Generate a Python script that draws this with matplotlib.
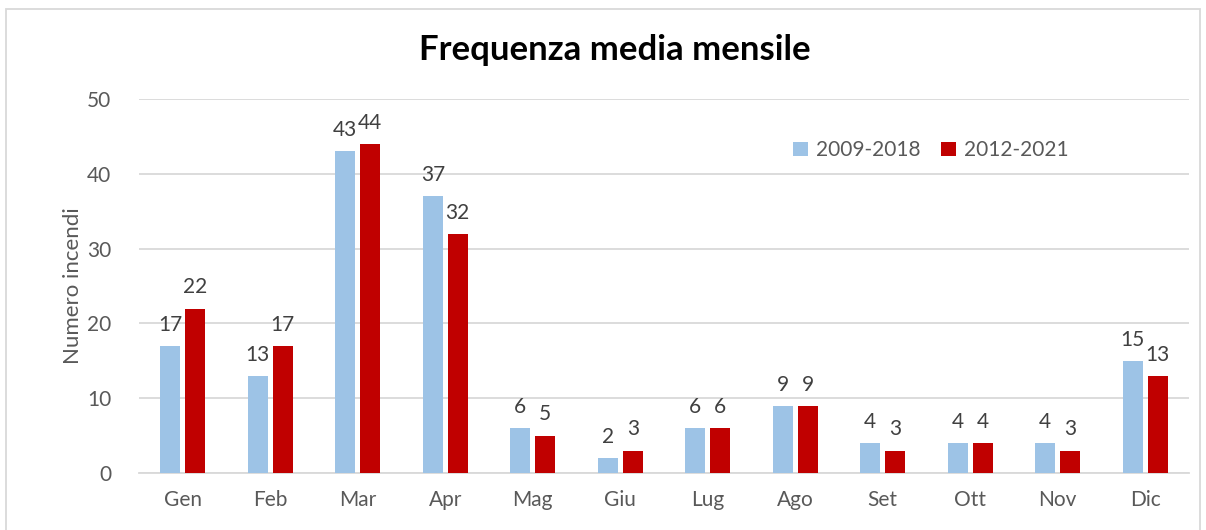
import numpy as np
import matplotlib.pyplot as plt

mesi = ["Gen", "Feb", "Mar", "Apr", "Mag", "Giu", "Lug", "Ago", "Set", "Ott", "Nov", "Dic"]
serie_a = [17, 13, 43, 37, 6, 2, 6, 9, 4, 4, 4, 15]   # 2009-2018
serie_b = [22, 17, 44, 32, 5, 3, 6, 9, 3, 4, 3, 13]   # 2012-2021
etichette = ["2009-2018", "2012-2021"]

plt.rcParams['font.family'] = ['Lato', 'DejaVu Sans']

fig = plt.figure(figsize=(12.06, 5.30), dpi=100)
ax = fig.add_axes([0.1153, 0.1075, 0.8706, 0.7055])

x = np.arange(len(mesi))
w = 0.23
gap = 0.055
col_a = "#9DC3E6"
col_b = "#C00000"
grigio = "#595959"

bars_a = ax.bar(x - (w + gap) / 2, serie_a, w, color=col_a, label=etichette[0], zorder=3)
bars_b = ax.bar(x + (w + gap) / 2, serie_b, w, color=col_b, label=etichette[1], zorder=3)

for bars in (bars_a, bars_b):
    for b in bars:
        ax.text(b.get_x() + b.get_width() / 2, b.get_height() + 1.5, f"{int(b.get_height())}",
                ha="center", va="bottom", fontsize=15, color="#404040")

ax.set_xlim(-0.5, len(mesi) - 0.5)
ax.set_ylim(0, 50)
ax.set_yticks(range(0, 51, 10))
ax.set_xticks(x)
ax.set_xticklabels(mesi)
ax.tick_params(axis="x", length=0, labelsize=15, colors=grigio, pad=12)
ax.tick_params(axis="y", length=0, labelsize=15, colors=grigio, pad=20)
ax.grid(axis="y", color="#D9D9D9", linewidth=1.3, zorder=0)
for s in ["top", "right", "left"]:
    ax.spines[s].set_visible(False)
ax.spines["bottom"].set_color("#D9D9D9")
ax.spines["bottom"].set_linewidth(1.3)

ax.set_ylabel("Numero incendi", fontsize=16, color=grigio, labelpad=3)
fig.text(0.51, 0.905, "Frequenza media mensile", ha="center", va="center",
         fontsize=25, fontweight="bold", color="black")

ax.legend(loc="upper left", bbox_to_anchor=(0.605, 0.94), ncol=2, frameon=False,
          fontsize=15, labelcolor=grigio, handlelength=0.7, handleheight=0.7,
          handletextpad=0.4, columnspacing=1.0)

# cornice del grafico
fig.patches.append(plt.Rectangle((0.005, -0.01), 0.99, 0.993, transform=fig.transFigure,
                                 fill=False, edgecolor="#D9D9D9", linewidth=1.3))

fig.savefig("out.png", dpi=100)
